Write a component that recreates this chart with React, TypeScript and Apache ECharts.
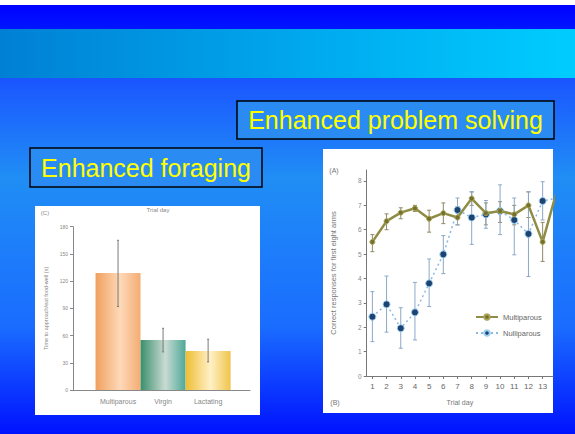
import React, { useEffect, useRef } from "react";
import * as echarts from "echarts";

// ---- Left panel: enhanced foraging (bar chart) ----
const barCategories = ["Multiparous", "Virgin", "Lactating"];
const barMeans = [129, 55, 43];
const barErrLow = [92, 42, 31];
const barErrHigh = [165, 68, 56];
const barYTicks = [0, 30, 60, 90, 120, 150, 180];

// ---- Right panel: enhanced problem solving (line chart) ----
const trialDays = [1, 2, 3, 4, 5, 6, 7, 8, 9, 10, 11, 12, 13, 14];
const dayTickLabels = [1, 2, 3, 4, 5, 6, 7, 8, 9, 10, 11, 12, 13];
const responseTicks = [0, 1, 2, 3, 4, 5, 6, 7, 8];
const multiMeans = [5.5, 6.35, 6.7, 6.88, 6.45, 6.68, 6.5, 7.28, 6.68, 6.77, 6.63, 7.0, 5.5, 7.6];
const multiLow = [5.1, 6.0, 6.45, 6.75, 5.9, 6.25, 6.2, 7.0, 6.2, 6.3, 6.2, 6.5, 4.7, 7.2];
const multiHigh = [5.8, 6.65, 6.9, 7.0, 6.8, 7.1, 6.95, 7.55, 7.1, 7.15, 7.0, 7.55, 6.3, 8.0];
const nulliMeans = [2.43, 2.94, 1.96, 2.61, 3.8, 4.99, 6.81, 6.5, 6.63, 6.77, 6.4, 5.83, 7.18, 7.3];
const nulliLow = [1.41, 1.8, 1.14, 1.48, 2.85, 4.2, 6.2, 5.4, 6.06, 5.8, 4.97, 4.08, 6.4, 6.8];
const nulliHigh = [3.46, 4.1, 2.8, 3.84, 4.8, 5.76, 7.3, 7.56, 7.2, 7.84, 7.3, 7.56, 7.97, 7.8];

const barGradients = [
  ["#f0a05e", "#fdd9b8", "#f4ac74"],
  ["#3a8f6c", "#c9dbd3", "#4fa898"],
  ["#efbd34", "#fff0c6", "#f0c54c"],
];

const FONT = "Liberation Sans";

function hGrad(c: string[]) {
  return new echarts.graphic.LinearGradient(0, 0, 1, 0, [
    { offset: 0, color: c[0] },
    { offset: 0.55, color: c[1] },
    { offset: 1, color: c[2] },
  ]);
}

function errorBarSeries(name: string, xIdx: number, data: number[][], color: string, cap: number) {
  return {
    name,
    type: "custom",
    xAxisIndex: xIdx,
    yAxisIndex: xIdx,
    clip: true,
    z: 3,
    encode: { x: 0, y: [1, 2] },
    data,
    renderItem: (params: any, api: any) => {
      const x = api.value(0);
      const lo = api.coord([x, api.value(1)]);
      const hi = api.coord([x, api.value(2)]);
      const st = { stroke: color, lineWidth: 1 };
      return {
        type: "group",
        children: [
          { type: "line", shape: { x1: lo[0], y1: lo[1], x2: hi[0], y2: hi[1] }, style: st },
          { type: "line", shape: { x1: lo[0] - cap, y1: lo[1], x2: lo[0] + cap, y2: lo[1] }, style: st },
          { type: "line", shape: { x1: hi[0] - cap, y1: hi[1], x2: hi[0] + cap, y2: hi[1] }, style: st },
        ],
      };
    },
  };
}

export default function App() {
  const ref = useRef<HTMLDivElement>(null);
  useEffect(() => {
    const chart = echarts.init(ref.current!, null, { renderer: "svg" });
    const small = { fontFamily: FONT, color: "#888" };
    const option: any = {
      animation: false,
      backgroundColor: "#ffffff",
      textStyle: { fontFamily: FONT },
      graphic: [
        { type: "rect", z: -20, shape: { x: 0, y: 5, width: 575, height: 24 }, style: { fill: new echarts.graphic.LinearGradient(0, 0, 0, 1, [{ offset: 0, color: "#0000ff" }, { offset: 1, color: "#0016ff" }]) } },
        { type: "rect", z: -20, shape: { x: 0, y: 29, width: 575, height: 49 }, style: { fill: new echarts.graphic.LinearGradient(0, 0, 1, 0, [{ offset: 0, color: "#0080d4" }, { offset: 0.5, color: "#00a6ec" }, { offset: 1, color: "#00ccff" }]) } },
        { type: "rect", z: -20, shape: { x: 0, y: 78, width: 575, height: 356 }, style: { fill: new echarts.graphic.LinearGradient(0, 0, 0, 1, [{ offset: 0, color: "#1a55ff" }, { offset: 0.28, color: "#208ef5" }, { offset: 0.7, color: "#1a6cff" }, { offset: 1, color: "#0012ff" }]) } },
        // title boxes
        { type: "rect", z: -10, shape: { x: 237, y: 101, width: 317, height: 38 }, style: { fill: "#2a8cf2", stroke: "#000", lineWidth: 1.5 } },
        { type: "text", z: -5, x: 395.5, y: 120, style: { text: "Enhanced problem solving", fill: "#ffff00", font: `25px "${FONT}"`, align: "center", verticalAlign: "middle" } },
        { type: "rect", z: -10, shape: { x: 30, y: 148, width: 232, height: 39 }, style: { fill: "#2a8cf2", stroke: "#000", lineWidth: 1.5 } },
        { type: "text", z: -5, x: 146, y: 168, style: { text: "Enhanced foraging", fill: "#ffff00", font: `25px "${FONT}"`, align: "center", verticalAlign: "middle" } },
        // white panels
        { type: "rect", z: -10, shape: { x: 35, y: 206, width: 225, height: 209 }, style: { fill: "#ffffff" } },
        { type: "rect", z: -10, shape: { x: 323, y: 149, width: 230, height: 264 }, style: { fill: "#ffffff" } },
        // panel annotations
        { type: "text", z: -5, x: 45, y: 213, style: { text: "(C)", fill: "#888", font: `6px "${FONT}"`, align: "center", verticalAlign: "middle" } },
        { type: "text", z: -5, x: 158, y: 210, style: { text: "Trial day", fill: "#888", font: `6px "${FONT}"`, align: "center", verticalAlign: "middle" } },
        { type: "text", z: -5, x: 334, y: 170, style: { text: "(A)", fill: "#777", font: `7px "${FONT}"`, align: "center", verticalAlign: "middle" } },
        { type: "text", z: -5, x: 335, y: 402, style: { text: "(B)", fill: "#777", font: `7px "${FONT}"`, align: "center", verticalAlign: "middle" } },
      ],
      grid: [
        { left: 73, top: 226.7, width: 177, height: 163.3 },
        { left: 366.7, top: 170, width: 186.3, height: 206 },
      ],
      xAxis: [
        {
          type: "value", gridIndex: 0, min: 0, max: 3.93,
          splitLine: { show: false },
          axisLine: { lineStyle: { color: "#888", width: 1 } },
          axisTick: { show: false },
          axisLabel: { ...small, fontSize: 7, margin: 8, customValues: [1, 2, 3], formatter: (v: number) => barCategories[Math.round(v) - 1] || "" },
        },
        {
          type: "value", gridIndex: 1, min: 0.6, max: 13.73,
          name: "Trial day", nameLocation: "middle", nameGap: 23,
          nameTextStyle: { fontFamily: FONT, fontSize: 7, color: "#777" },
          splitLine: { show: false },
          axisLine: { lineStyle: { color: "#777", width: 1 } },
          axisTick: { show: true, length: 3, customValues: dayTickLabels, lineStyle: { color: "#777" } },
          axisLabel: { fontFamily: FONT, color: "#666", fontSize: 8, margin: 6, customValues: dayTickLabels },
        },
      ],
      yAxis: [
        {
          type: "value", gridIndex: 0, min: 0, max: 180, interval: 30,
          name: "Time to approach/eat food-well (s)", nameLocation: "middle", nameGap: 24, nameRotate: 90,
          nameTextStyle: { fontFamily: FONT, fontSize: 5.5, color: "#888" },
          splitLine: { show: false },
          axisLine: { show: true, lineStyle: { color: "#888", width: 1 } },
          axisTick: { show: true, length: 3, lineStyle: { color: "#888" } },
          axisLabel: { ...small, fontSize: 5, margin: 5, customValues: barYTicks },
        },
        {
          type: "value", gridIndex: 1, min: 0, max: 8.45,
          name: "Correct responses for first eight arms", nameLocation: "middle", nameGap: 29, nameRotate: 90,
          nameTextStyle: { fontFamily: FONT, fontSize: 7.5, color: "#777" },
          splitLine: { show: false },
          axisLine: { show: true, lineStyle: { color: "#777", width: 1 } },
          axisTick: { show: true, length: 3, customValues: responseTicks, lineStyle: { color: "#777" } },
          axisLabel: { fontFamily: FONT, color: "#888", fontSize: 6.5, margin: 5, customValues: responseTicks },
        },
      ],
      legend: {
        data: ["Multiparous", "Nulliparous"],
        orient: "vertical",
        left: 470, top: 308,
        itemWidth: 22, itemHeight: 7, itemGap: 8,
        textStyle: { fontFamily: FONT, fontSize: 7.5, color: "#666" },
      },
      series: [
        {
          name: "foraging", type: "bar", xAxisIndex: 0, yAxisIndex: 0, barWidth: 45, z: 2,
          data: barMeans.map((v, i) => ({ value: [i + 1, v], itemStyle: { color: hGrad(barGradients[i]) } })),
        },
        errorBarSeries("foragingErr", 0, barMeans.map((_, i) => [i + 1, barErrLow[i], barErrHigh[i]]), "#7a7a7a", 1),
        errorBarSeries("multiErr", 1, trialDays.map((d, i) => [d, multiLow[i], multiHigh[i]]), "#8f8868", 2),
        errorBarSeries("nulliErr", 1, trialDays.map((d, i) => [d, nulliLow[i], nulliHigh[i]]), "#8ca8c8", 2),
        {
          name: "Nulliparous", type: "line", xAxisIndex: 1, yAxisIndex: 1, z: 4,
          data: trialDays.map((d, i) => [d, nulliMeans[i]]),
          symbol: "circle", symbolSize: 7,
          lineStyle: { color: "#8ab8e2", width: 1.5, type: [2, 3] },
          itemStyle: { color: "#1d4470", borderColor: "#9ccef2", borderWidth: 1 },
        },
        {
          name: "Multiparous", type: "line", xAxisIndex: 1, yAxisIndex: 1, z: 5,
          data: trialDays.map((d, i) => [d, multiMeans[i]]),
          symbol: "circle", symbolSize: 5,
          lineStyle: { color: "#8f8c44", width: 2.5 },
          itemStyle: { color: "#75712c", borderColor: "#a8a45a", borderWidth: 1 },
        },
      ],
    };
    chart.setOption(option);
    return () => chart.dispose();
  }, []);
  return <div ref={ref} style={{ position: "absolute", left: 0, top: 0, width: 575, height: 434 }} />;
}
